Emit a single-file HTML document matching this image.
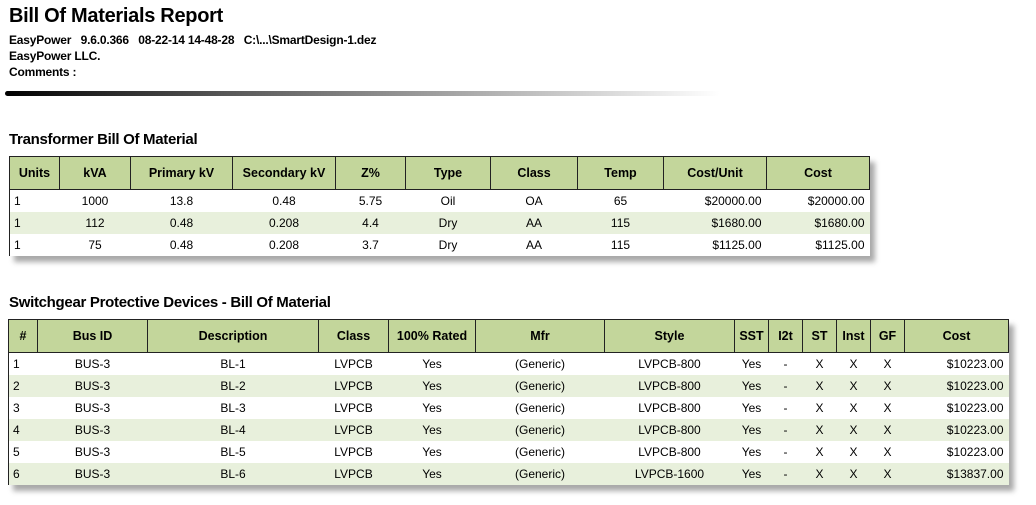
<!DOCTYPE html>
<html><head><style>
body{margin:0;width:1036px;height:505px;background:#fff;font-family:"Liberation Sans",Arial,sans-serif;position:relative;overflow:hidden}
h1{position:absolute;left:9px;top:5px;margin:0;font-size:20px;font-weight:bold;letter-spacing:-0.3px}
.meta{position:absolute;left:9px;top:32px;font-size:12px;font-weight:bold;line-height:16px;letter-spacing:-0.2px}
.bar{position:absolute;left:5px;top:91px;width:715px;height:5px;border-radius:3px;background:linear-gradient(to right,#000,#555 30%,#aaa 65%,#fff)}
h2{position:absolute;left:9px;margin:0;font-size:15px;font-weight:bold;letter-spacing:-0.3px}
table{position:absolute;border-collapse:collapse;table-layout:fixed;font-size:12px;box-shadow:5px 6px 5px #aaa;background:#fff}
th{background:#c3d69b;border:1px solid #222;font-weight:bold;height:32px;padding:0;font-size:12.5px}
td{padding:0;text-align:center;height:22px;border:0}
tbody tr:nth-child(even) td{background:#e8f0dc}
td.l{text-align:left;padding-left:4px}
td.r{text-align:right;padding-right:5px}
tbody td:first-child{border-left:1px solid #222}
</style></head><body>
<h1>Bill Of Materials Report</h1>
<div class="meta">EasyPower&nbsp;&nbsp;&nbsp;9.6.0.366&nbsp;&nbsp;&nbsp;08-22-14 14-48-28&nbsp;&nbsp;&nbsp;C:\...\SmartDesign-1.dez<br>EasyPower LLC.<br>Comments :</div>
<div class="bar"></div>
<h2 style="top:131px">Transformer Bill Of Material</h2>
<table style="left:9px;top:156px;width:860px">
<colgroup><col style="width:50px"><col style="width:71px"><col style="width:102px"><col style="width:103px"><col style="width:70px"><col style="width:85px"><col style="width:87px"><col style="width:86px"><col style="width:103px"><col style="width:103px"></colgroup>
<thead><tr><th>Units</th><th>kVA</th><th>Primary kV</th><th>Secondary kV</th><th>Z%</th><th>Type</th><th>Class</th><th>Temp</th><th>Cost/Unit</th><th>Cost</th></tr></thead>
<tbody>
<tr><td class="l">1</td><td>1000</td><td>13.8</td><td>0.48</td><td>5.75</td><td>Oil</td><td>OA</td><td>65</td><td class="r">$20000.00</td><td class="r">$20000.00</td></tr>
<tr><td class="l">1</td><td>112</td><td>0.48</td><td>0.208</td><td>4.4</td><td>Dry</td><td>AA</td><td>115</td><td class="r">$1680.00</td><td class="r">$1680.00</td></tr>
<tr><td class="l">1</td><td>75</td><td>0.48</td><td>0.208</td><td>3.7</td><td>Dry</td><td>AA</td><td>115</td><td class="r">$1125.00</td><td class="r">$1125.00</td></tr>
</tbody></table>
<h2 style="top:294px">Switchgear Protective Devices - Bill Of Material</h2>
<table style="left:8px;top:319px;width:1000px">
<colgroup><col style="width:29px"><col style="width:110px"><col style="width:171px"><col style="width:70px"><col style="width:87px"><col style="width:129px"><col style="width:130px"><col style="width:34px"><col style="width:34px"><col style="width:34px"><col style="width:34px"><col style="width:34px"><col style="width:104px"></colgroup>
<thead><tr><th>#</th><th>Bus ID</th><th>Description</th><th>Class</th><th>100% Rated</th><th>Mfr</th><th>Style</th><th>SST</th><th>I2t</th><th>ST</th><th>Inst</th><th>GF</th><th>Cost</th></tr></thead>
<tbody>
<tr><td class="l">1</td><td>BUS-3</td><td>BL-1</td><td>LVPCB</td><td>Yes</td><td>(Generic)</td><td>LVPCB-800</td><td>Yes</td><td>-</td><td>X</td><td>X</td><td>X</td><td class="r">$10223.00</td></tr>
<tr><td class="l">2</td><td>BUS-3</td><td>BL-2</td><td>LVPCB</td><td>Yes</td><td>(Generic)</td><td>LVPCB-800</td><td>Yes</td><td>-</td><td>X</td><td>X</td><td>X</td><td class="r">$10223.00</td></tr>
<tr><td class="l">3</td><td>BUS-3</td><td>BL-3</td><td>LVPCB</td><td>Yes</td><td>(Generic)</td><td>LVPCB-800</td><td>Yes</td><td>-</td><td>X</td><td>X</td><td>X</td><td class="r">$10223.00</td></tr>
<tr><td class="l">4</td><td>BUS-3</td><td>BL-4</td><td>LVPCB</td><td>Yes</td><td>(Generic)</td><td>LVPCB-800</td><td>Yes</td><td>-</td><td>X</td><td>X</td><td>X</td><td class="r">$10223.00</td></tr>
<tr><td class="l">5</td><td>BUS-3</td><td>BL-5</td><td>LVPCB</td><td>Yes</td><td>(Generic)</td><td>LVPCB-800</td><td>Yes</td><td>-</td><td>X</td><td>X</td><td>X</td><td class="r">$10223.00</td></tr>
<tr><td class="l">6</td><td>BUS-3</td><td>BL-6</td><td>LVPCB</td><td>Yes</td><td>(Generic)</td><td>LVPCB-1600</td><td>Yes</td><td>-</td><td>X</td><td>X</td><td>X</td><td class="r">$13837.00</td></tr>
</tbody></table>
</body></html>
